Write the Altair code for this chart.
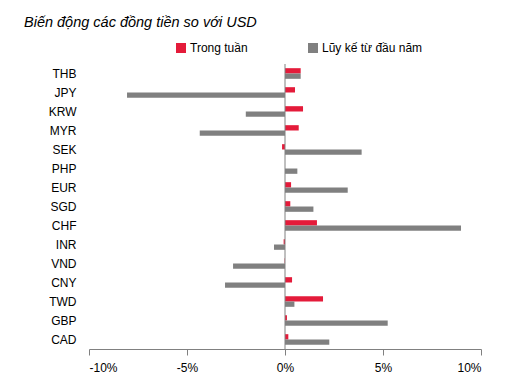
import altair as alt
import pandas as pd

currencies = ["THB", "JPY", "KRW", "MYR", "SEK", "PHP", "EUR", "SGD", "CHF", "INR", "VND", "CNY", "TWD", "GBP", "CAD"]
weekly = [0.80, 0.51, 0.92, 0.70, -0.15, 0.0, 0.31, 0.27, 1.63, -0.07, -0.02, 0.36, 1.94, 0.10, 0.17]
ytd = [0.80, -8.06, -2.00, -4.35, 3.91, 0.63, 3.20, 1.45, 8.98, -0.56, -2.65, -3.06, 0.48, 5.24, 2.26]
series = ["Trong tuần", "Lũy kế từ đầu năm"]
colors = ["#E41B3A", "#808080"]

rows = []
for c, w, y in zip(currencies, weekly, ytd):
    rows.append({"cur": c, "series": series[0], "value": w})
    rows.append({"cur": c, "series": series[1], "value": y})
df = pd.DataFrame(rows)

FONT = "Liberation Sans"

bars = alt.Chart(df).mark_bar().encode(
    x=alt.X("value:Q", scale=alt.Scale(domain=[-10, 10], nice=False),
            axis=alt.Axis(values=[-10, -5, 0, 5, 10], labelExpr="datum.value + '%'",
                          title=None, grid=False, tickSize=6, domainColor="#808080",
                          tickColor="#808080", labelFontSize=12, labelColor="#000000",
                          labelFont=FONT, labelPadding=7)),
    y=alt.Y("cur:N", sort=currencies, scale=alt.Scale(paddingInner=0.44, paddingOuter=0.22),
            axis=alt.Axis(title=None, domain=False, ticks=False, labelFontSize=12,
                          labelColor="#000000", labelFont=FONT, labelPadding=13)),
    yOffset=alt.YOffset("series:N", sort=series),
    color=alt.Color("series:N", sort=series,
                    scale=alt.Scale(domain=series, range=colors),
                    legend=alt.Legend(title=None, orient="none", legendX=86, legendY=-22,
                                      direction="horizontal", symbolType="square",
                                      symbolSize=100, symbolStrokeWidth=0, labelFontSize=12,
                                      labelFont=FONT, labelColor="#000000",
                                      columnPadding=59, labelOffset=3)),
)

zero = alt.Chart(pd.DataFrame({"z": [0]})).mark_rule(color="#808080", strokeWidth=1).encode(
    x=alt.X("z:Q")
)

chart = alt.layer(bars, zero).properties(
    width=392, height=285,
    autosize=alt.AutoSizeParams(type="none"),
    padding={"left": 81, "top": 56, "right": 10, "bottom": 30},
    title=alt.TitleParams("Biến động các đồng tiền so với USD", anchor="start", frame="group",
                          dx=-65, offset=12, font=FONT, fontSize=14.5, fontStyle="italic",
                          fontWeight="normal", color="#000000"),
).configure_view(stroke=None)

chart.save("out.html", embed_options={"renderer": "svg", "actions": False})
